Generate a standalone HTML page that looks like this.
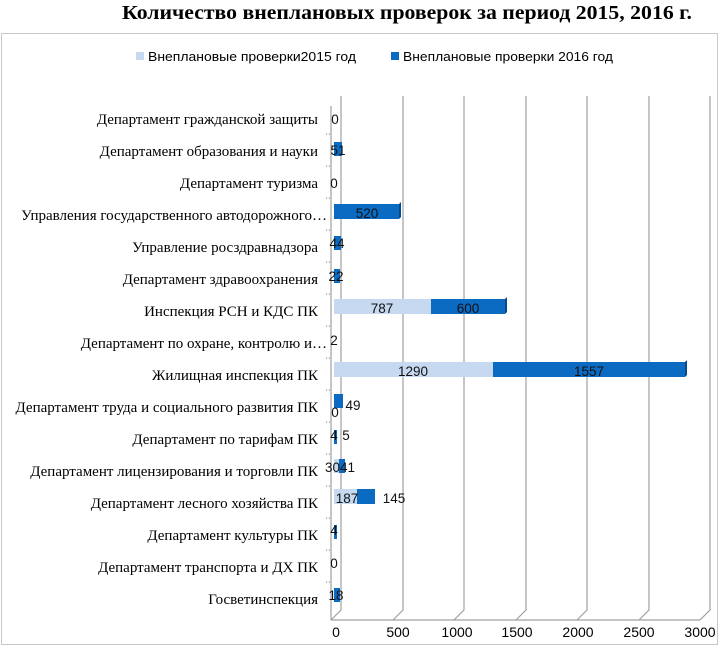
<!DOCTYPE html>
<html><head><meta charset="utf-8"><style>
body{margin:0;background:#fff;}
.s{font-family:"Liberation Sans",sans-serif;}
.r{font-family:"Liberation Serif",serif;}
</style></head><body>
<svg width="720" height="646" xmlns="http://www.w3.org/2000/svg">
<rect x="0" y="0" width="720" height="646" fill="#fff"/>
<text class="r" x="407" y="19" text-anchor="middle" font-weight="bold" font-size="19.5" textLength="570" lengthAdjust="spacingAndGlyphs">Количество внеплановых проверок за период 2015, 2016 г.</text>
<rect x="1.5" y="33.5" width="716" height="611" fill="none" stroke="#c8c8c8"/>
<rect x="136" y="52" width="8" height="8" fill="#c6d9f1"/>
<text class="s" x="148" y="61" font-size="13" textLength="208" lengthAdjust="spacingAndGlyphs">Внеплановые проверки2015 год</text>
<rect x="391" y="52" width="8" height="8" fill="#0b6bc2"/>
<text class="s" x="403" y="61" font-size="13" textLength="210" lengthAdjust="spacingAndGlyphs">Внеплановые проверки 2016 год</text>
<g stroke="#a0a0a0" stroke-width="1.2" fill="none">
<path d="M341 96V610L331 620"/>
<path d="M331 106V620"/>
<path d="M403 96V610L393 620"/>
<path d="M464 96V610L454 620"/>
<path d="M526 96V610L516 620"/>
<path d="M587 96V610L577 620"/>
<path d="M649 96V610L639 620"/>
<path d="M710 96V610L700 620"/>
<path d="M331 620H700"/>
</g>
<g stroke="#777" stroke-dasharray="1,2"><path d="M326 134H331M326 166H331M326 198H331M326 230H331M326 262H331M326 294H331M326 326H331M326 358H331M326 390H331M326 422H331M326 454H331M326 486H331M326 518H331M326 550H331M326 582H331"/></g>
<g class="s" font-size="14" text-anchor="middle">
<text x="336" y="637">0</text><text x="398" y="637">500</text><text x="457" y="637">1000</text><text x="517" y="637">1500</text><text x="578" y="637">2000</text><text x="639" y="637">2500</text><text x="700" y="637">3000</text>
</g>
<g class="r" font-size="15" text-anchor="end">
<text x="318" y="124">Департамент гражданской защиты</text>
<text x="318" y="156">Департамент образования и науки</text>
<text x="318" y="188">Департамент туризма</text>
<text x="327" y="220">Управления государственного автодорожного…</text>
<text x="318" y="252">Управление росздравнадзора</text>
<text x="318" y="284">Департамент здравоохранения</text>
<text x="318" y="316">Инспекция РСН и КДС ПК</text>
<text x="327" y="348">Департамент по охране, контролю и…</text>
<text x="318" y="380">Жилищная инспекция ПК</text>
<text x="318" y="412">Департамент труда и социального развития ПК</text>
<text x="318" y="444">Департамент по тарифам ПК</text>
<text x="318" y="476">Департамент лицензирования и торговли ПК</text>
<text x="318" y="508">Департамент лесного хозяйства ПК</text>
<text x="318" y="540">Департамент культуры ПК</text>
<text x="318" y="572">Департамент транспорта и ДХ ПК</text>
<text x="318" y="604">Госветинспекция</text>
</g>
<g>
<rect x="334" y="204" width="65" height="15" fill="#0b6bc2"/><path d="M399 204l2 -2v15l-2 2z" fill="#064a8a"/>
<rect x="334" y="299" width="97" height="15" fill="#c6d9f1"/><rect x="431" y="299" width="74" height="15" fill="#0b6bc2"/><path d="M505 299l2 -2v15l-2 2z" fill="#064a8a"/>
<rect x="334" y="362" width="159" height="15" fill="#c6d9f1"/><rect x="493" y="362" width="192" height="15" fill="#0b6bc2"/><path d="M685 362l2 -2v15l-2 2z" fill="#064a8a"/>
<rect x="334" y="489" width="23" height="15" fill="#c6d9f1"/><rect x="357" y="489" width="18" height="15" fill="#0b6bc2"/>
<rect x="334" y="142" width="8" height="14" fill="#0b6bc2"/>
<rect x="334" y="236" width="7" height="14" fill="#0b6bc2"/>
<rect x="334" y="269" width="6" height="14" fill="#0b6bc2"/>
<rect x="334" y="394" width="9" height="14" fill="#0b6bc2"/>
<rect x="334" y="459" width="5" height="14" fill="#c6d9f1"/><rect x="339" y="459" width="6" height="14" fill="#0b6bc2"/>
<rect x="334" y="588" width="6" height="14" fill="#0b6bc2"/>
<rect x="334" y="430" width="3" height="14" fill="#0b6bc2"/>
<rect x="334" y="525" width="3" height="14" fill="#0b6bc2"/>
</g>
<g class="s" font-size="13.5" text-anchor="middle" fill="#111">
<text x="367" y="218">520</text>
<text x="382" y="313">787</text><text x="468" y="313">600</text>
<text x="413" y="376">1290</text><text x="589" y="376">1557</text>
<text x="347" y="503">187</text><text x="394" y="503">145</text>
<text x="335" y="124">0</text><text x="338" y="155">51</text><text x="334" y="188">0</text>
<text x="337" y="248">44</text><text x="336" y="281">22</text><text x="334" y="345">2</text>
<text x="353" y="410">49</text><text x="335" y="417">0</text>
<text x="334" y="440">4</text><text x="346" y="440">5</text>
<text x="340" y="472">3041</text><text x="334" y="535">4</text><text x="334" y="568">0</text>
<text x="336" y="600">18</text>
</g>
</svg>
</body></html>
